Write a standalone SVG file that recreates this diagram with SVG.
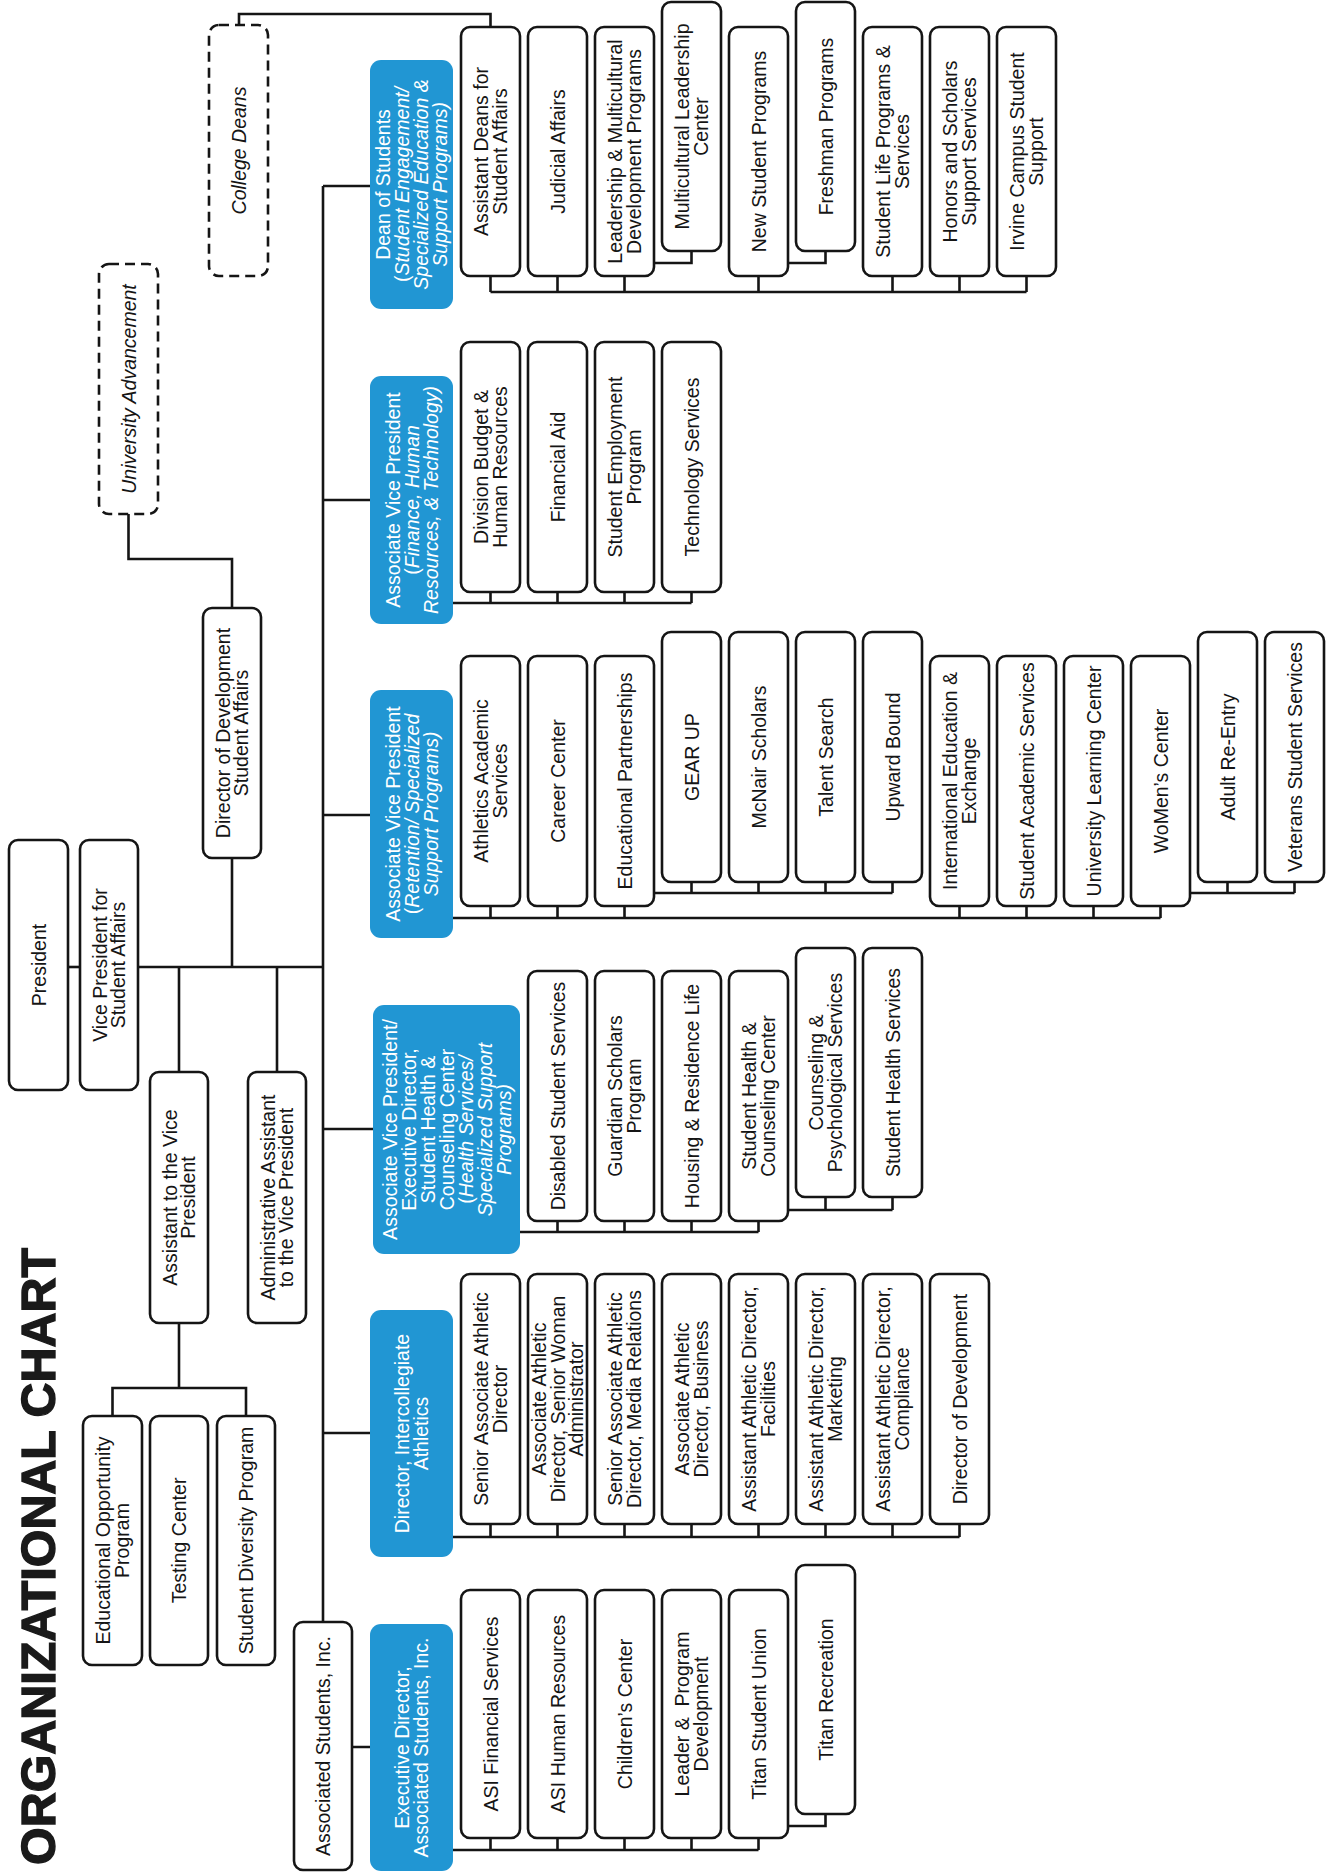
<svg xmlns="http://www.w3.org/2000/svg" width="1331" height="1874" viewBox="0 0 1331 1874">
<style>
.box{fill:#fff;stroke:#151515;stroke-width:2.6}
.dash{fill:#fff;stroke:#151515;stroke-width:2.6;stroke-dasharray:10 6}
.blue{fill:#2196d3}
.ln{fill:none;stroke:#151515;stroke-width:2.6}
.t{font-family:"Liberation Sans",Arial,sans-serif;font-size:19.5px;text-anchor:middle;fill:#151515}
.w{fill:#fff}
.i{font-style:italic}
.n{font-style:normal}
</style>
<rect width="1331" height="1874" fill="#fff"/>
<text transform="translate(55,1556.5) rotate(-90)" font-family="Liberation Sans, Arial, sans-serif" font-weight="bold" font-size="49" text-anchor="middle" textLength="617" lengthAdjust="spacingAndGlyphs" fill="#1a1a1a" stroke="#1a1a1a" stroke-width="1.4">ORGANIZATIONAL CHART</text>

<g id="connectors" class="ln">
<path d="M239,25V14H490.5V27"/>
<path d="M128.5,514V559H232V608"/>
<path d="M68,967H80"/>
<path d="M138,967H323"/>
<path d="M323,186V1622"/>
<path d="M179,967V1072M277,967V1072M232,858V967"/>
<path d="M179,1323V1388M112.5,1416V1388H246V1416"/>
<path d="M323,186H370M323,500H370M323,815H370M323,1129H373M323,1433H370M352,1747H370"/>
<path d="M490.5,292H1026.5M490.5,276V292M557.5,276V292M624.5,276V292M758.5,276V292M892.5,276V292M959.5,276V292M1026.5,276V292M654,263H691.5V251M788,263H825.5V251"/>
<path d="M453,603H691.5M490.5,592V603M557.5,592V603M624.5,592V603M691.5,592V603"/>
<path d="M453,918H1160.5M490.5,906V918M557.5,906V918M624.5,906V918M959.5,906V918M1026.5,906V918M1093.5,906V918M1160.5,906V918M654,893H892.5M691.5,882V893M758.5,882V893M825.5,882V893M892.5,882V893M1190,893H1294.5M1227.5,882V893M1294.5,882V893"/>
<path d="M520,1232H758.5M557.5,1221V1232M624.5,1221V1232M691.5,1221V1232M758.5,1221V1232M788,1210H892.5M825.5,1197V1210M892.5,1197V1210"/>
<path d="M453,1537H959.5M490.5,1524V1537M557.5,1524V1537M624.5,1524V1537M691.5,1524V1537M758.5,1524V1537M825.5,1524V1537M892.5,1524V1537M959.5,1524V1537"/>
<path d="M453,1850H758.5M490.5,1838V1850M557.5,1838V1850M624.5,1838V1850M691.5,1838V1850M758.5,1838V1850M788,1826H825.5V1814"/>
</g>

<g id="president"><rect class="box" x="9" y="840" width="59" height="250" rx="9"/><text class="t" transform="translate(38.5,965) rotate(-90)"><tspan x="0" y="7">President</tspan></text></g>
<g id="vp"><rect class="box" x="80" y="840" width="58" height="250" rx="9"/><text class="t" transform="translate(109,965) rotate(-90)"><tspan x="0" y="-2.25">Vice President for</tspan><tspan x="0" y="16.25">Student Affairs</tspan></text></g>
<g id="dir-dev-sa"><rect class="box" x="203" y="608" width="58" height="250" rx="9"/><text class="t" transform="translate(232,733) rotate(-90)"><tspan x="0" y="-2.25">Director of Development</tspan><tspan x="0" y="16.25">Student Affairs</tspan></text></g>
<g id="asst-vp"><rect class="box" x="150" y="1072" width="58" height="251" rx="9"/><text class="t" transform="translate(179,1197.5) rotate(-90)"><tspan x="0" y="-2.25">Assistant to the Vice</tspan><tspan x="0" y="16.25">President</tspan></text></g>
<g id="admin-asst"><rect class="box" x="248" y="1072" width="58" height="251" rx="9"/><text class="t" transform="translate(277,1197.5) rotate(-90)"><tspan x="0" y="-2.25">Administrative Assistant</tspan><tspan x="0" y="16.25">to the Vice President</tspan></text></g>
<g id="eop"><rect class="box" x="83" y="1416" width="59" height="249" rx="9"/><text class="t" transform="translate(112.5,1540.5) rotate(-90)"><tspan x="0" y="-2.25">Educational Opportunity</tspan><tspan x="0" y="16.25">Program</tspan></text></g>
<g id="testing"><rect class="box" x="150" y="1416" width="58" height="249" rx="9"/><text class="t" transform="translate(179,1540.5) rotate(-90)"><tspan x="0" y="7">Testing Center</tspan></text></g>
<g id="sdp"><rect class="box" x="217" y="1416" width="58" height="249" rx="9"/><text class="t" transform="translate(246,1540.5) rotate(-90)"><tspan x="0" y="7">Student Diversity Program</tspan></text></g>
<g id="asi"><rect class="box" x="294" y="1622" width="58" height="248" rx="9"/><text class="t" transform="translate(323,1746) rotate(-90)"><tspan x="0" y="7">Associated Students, Inc.</tspan></text></g>
<g id="univ-adv"><rect class="dash" x="99" y="264" width="59" height="250" rx="10"/><text class="t i" transform="translate(128.5,389) rotate(-90)"><tspan x="0" y="7">University Advancement</tspan></text></g>
<g id="college-deans"><rect class="dash" x="209" y="25" width="59" height="251" rx="10"/><text class="t i" transform="translate(238.5,150.5) rotate(-90)"><tspan x="0" y="7">College Deans</tspan></text></g>

<g id="dean"><rect class="blue" x="370" y="60" width="83" height="249" rx="11"/><text class="t w" transform="translate(411.5,184.5) rotate(-90)"><tspan x="0" y="-21.5">Dean of Students</tspan><tspan x="0" y="-2.5">(<tspan class="i">Student Engagement/</tspan></tspan><tspan x="0" y="16.5" class="i">Specialized Education &amp;</tspan><tspan x="0" y="35.5" class="i">Support Programs)</tspan></text></g>
<g id="avp-finance"><rect class="blue" x="370" y="376" width="83" height="248" rx="11"/><text class="t w" transform="translate(411.5,500) rotate(-90)"><tspan x="0" y="-12">Associate Vice President</tspan><tspan x="0" y="7">(<tspan class="i">Finance, Human</tspan></tspan><tspan x="0" y="26" class="i">Resources, &amp; Technology)</tspan></text></g>
<g id="avp-retention"><rect class="blue" x="370" y="690" width="83" height="248" rx="11"/><text class="t w" transform="translate(411.5,814) rotate(-90)"><tspan x="0" y="-12">Associate Vice President</tspan><tspan x="0" y="7">(<tspan class="i">Retention/ Specialized</tspan></tspan><tspan x="0" y="26" class="i">Support Programs)</tspan></text></g>
<g id="avp-health"><rect class="blue" x="373" y="1005" width="147" height="249" rx="11"/><text class="t w" transform="translate(446.5,1129.5) rotate(-90)"><tspan x="0" y="-50">Associate Vice President/</tspan><tspan x="0" y="-31">Executive Director,</tspan><tspan x="0" y="-12">Student Health &amp;</tspan><tspan x="0" y="7">Counseling Center</tspan><tspan x="0" y="26">(<tspan class="i">Health Services/</tspan></tspan><tspan x="0" y="45" class="i">Specialized Support</tspan><tspan x="0" y="64" class="i">Programs)</tspan></text></g>
<g id="dir-athletics"><rect class="blue" x="370" y="1310" width="83" height="247" rx="11"/><text class="t w" transform="translate(411.5,1433.5) rotate(-90)"><tspan x="0" y="-2.5">Director, Intercollegiate</tspan><tspan x="0" y="16.5">Athletics</tspan></text></g>
<g id="exec-asi"><rect class="blue" x="370" y="1624" width="83" height="247" rx="11"/><text class="t w" transform="translate(411.5,1747.5) rotate(-90)"><tspan x="0" y="-2.5">Executive Director,</tspan><tspan x="0" y="16.5">Associated Students, Inc.</tspan></text></g>

<g id="asst-deans"><rect class="box" x="461" y="27" width="59" height="249" rx="9"/><text class="t" transform="translate(490.5,151.5) rotate(-90)"><tspan x="0" y="-2.25">Assistant Deans for</tspan><tspan x="0" y="16.25">Student Affairs</tspan></text></g>
<g id="judicial"><rect class="box" x="528" y="27" width="59" height="249" rx="9"/><text class="t" transform="translate(557.5,151.5) rotate(-90)"><tspan x="0" y="7">Judicial Affairs</tspan></text></g>
<g id="leadership"><rect class="box" x="595" y="27" width="59" height="249" rx="9"/><text class="t" transform="translate(624.5,151.5) rotate(-90)"><tspan x="0" y="-2.25">Leadership &amp; Multicultural</tspan><tspan x="0" y="16.25">Development Programs</tspan></text></g>
<g id="mlc"><rect class="box" x="662" y="2" width="59" height="249" rx="9"/><text class="t" transform="translate(691.5,126.5) rotate(-90)"><tspan x="0" y="-2.25">Multicultural Leadership</tspan><tspan x="0" y="16.25">Center</tspan></text></g>
<g id="new-student"><rect class="box" x="729" y="27" width="59" height="249" rx="9"/><text class="t" transform="translate(758.5,151.5) rotate(-90)"><tspan x="0" y="7">New Student Programs</tspan></text></g>
<g id="freshman"><rect class="box" x="796" y="2" width="59" height="249" rx="9"/><text class="t" transform="translate(825.5,126.5) rotate(-90)"><tspan x="0" y="7">Freshman Programs</tspan></text></g>
<g id="student-life"><rect class="box" x="863" y="27" width="59" height="249" rx="9"/><text class="t" transform="translate(892.5,151.5) rotate(-90)"><tspan x="0" y="-2.25">Student Life Programs &amp;</tspan><tspan x="0" y="16.25">Services</tspan></text></g>
<g id="honors"><rect class="box" x="930" y="27" width="59" height="249" rx="9"/><text class="t" transform="translate(959.5,151.5) rotate(-90)"><tspan x="0" y="-2.25">Honors and Scholars</tspan><tspan x="0" y="16.25">Support Services</tspan></text></g>
<g id="irvine"><rect class="box" x="997" y="27" width="59" height="249" rx="9"/><text class="t" transform="translate(1026.5,151.5) rotate(-90)"><tspan x="0" y="-2.25">Irvine Campus Student</tspan><tspan x="0" y="16.25">Support</tspan></text></g>

<g id="budget"><rect class="box" x="461" y="342" width="59" height="250" rx="9"/><text class="t" transform="translate(490.5,467) rotate(-90)"><tspan x="0" y="-2.25">Division Budget &amp;</tspan><tspan x="0" y="16.25">Human Resources</tspan></text></g>
<g id="fin-aid"><rect class="box" x="528" y="342" width="59" height="250" rx="9"/><text class="t" transform="translate(557.5,467) rotate(-90)"><tspan x="0" y="7">Financial Aid</tspan></text></g>
<g id="student-emp"><rect class="box" x="595" y="342" width="59" height="250" rx="9"/><text class="t" transform="translate(624.5,467) rotate(-90)"><tspan x="0" y="-2.25">Student Employment</tspan><tspan x="0" y="16.25">Program</tspan></text></g>
<g id="tech"><rect class="box" x="662" y="342" width="59" height="250" rx="9"/><text class="t" transform="translate(691.5,467) rotate(-90)"><tspan x="0" y="7">Technology Services</tspan></text></g>

<g id="athletics-acad"><rect class="box" x="461" y="656" width="59" height="250" rx="9"/><text class="t" transform="translate(490.5,781) rotate(-90)"><tspan x="0" y="-2.25">Athletics Academic</tspan><tspan x="0" y="16.25">Services</tspan></text></g>
<g id="career"><rect class="box" x="528" y="656" width="59" height="250" rx="9"/><text class="t" transform="translate(557.5,781) rotate(-90)"><tspan x="0" y="7">Career Center</tspan></text></g>
<g id="edu-partner"><rect class="box" x="595" y="656" width="59" height="250" rx="9"/><text class="t" transform="translate(624.5,781) rotate(-90)"><tspan x="0" y="7">Educational Partnerships</tspan></text></g>
<g id="gear-up"><rect class="box" x="662" y="632" width="59" height="250" rx="9"/><text class="t" transform="translate(691.5,757) rotate(-90)"><tspan x="0" y="7">GEAR UP</tspan></text></g>
<g id="mcnair"><rect class="box" x="729" y="632" width="59" height="250" rx="9"/><text class="t" transform="translate(758.5,757) rotate(-90)"><tspan x="0" y="7">McNair Scholars</tspan></text></g>
<g id="talent"><rect class="box" x="796" y="632" width="59" height="250" rx="9"/><text class="t" transform="translate(825.5,757) rotate(-90)"><tspan x="0" y="7">Talent Search</tspan></text></g>
<g id="upward"><rect class="box" x="863" y="632" width="59" height="250" rx="9"/><text class="t" transform="translate(892.5,757) rotate(-90)"><tspan x="0" y="7">Upward Bound</tspan></text></g>
<g id="intl-ed"><rect class="box" x="930" y="656" width="59" height="250" rx="9"/><text class="t" transform="translate(959.5,781) rotate(-90)"><tspan x="0" y="-2.25">International Education &amp;</tspan><tspan x="0" y="16.25">Exchange</tspan></text></g>
<g id="student-acad"><rect class="box" x="997" y="656" width="59" height="250" rx="9"/><text class="t" transform="translate(1026.5,781) rotate(-90)"><tspan x="0" y="7">Student Academic Services</tspan></text></g>
<g id="ulc"><rect class="box" x="1064" y="656" width="59" height="250" rx="9"/><text class="t" transform="translate(1093.5,781) rotate(-90)"><tspan x="0" y="7">University Learning Center</tspan></text></g>
<g id="womens"><rect class="box" x="1131" y="656" width="59" height="250" rx="9"/><text class="t" transform="translate(1160.5,781) rotate(-90)"><tspan x="0" y="7">WoMen’s Center</tspan></text></g>
<g id="adult"><rect class="box" x="1198" y="632" width="59" height="250" rx="9"/><text class="t" transform="translate(1227.5,757) rotate(-90)"><tspan x="0" y="7">Adult Re-Entry</tspan></text></g>
<g id="veterans"><rect class="box" x="1265" y="632" width="59" height="250" rx="9"/><text class="t" transform="translate(1294.5,757) rotate(-90)"><tspan x="0" y="7">Veterans Student Services</tspan></text></g>

<g id="disabled"><rect class="box" x="528" y="971" width="59" height="250" rx="9"/><text class="t" transform="translate(557.5,1096) rotate(-90)"><tspan x="0" y="7">Disabled Student Services</tspan></text></g>
<g id="guardian"><rect class="box" x="595" y="971" width="59" height="250" rx="9"/><text class="t" transform="translate(624.5,1096) rotate(-90)"><tspan x="0" y="-2.25">Guardian Scholars</tspan><tspan x="0" y="16.25">Program</tspan></text></g>
<g id="housing"><rect class="box" x="662" y="971" width="59" height="250" rx="9"/><text class="t" transform="translate(691.5,1096) rotate(-90)"><tspan x="0" y="7">Housing &amp; Residence Life</tspan></text></g>
<g id="shcc"><rect class="box" x="729" y="971" width="59" height="250" rx="9"/><text class="t" transform="translate(758.5,1096) rotate(-90)"><tspan x="0" y="-2.25">Student Health &amp;</tspan><tspan x="0" y="16.25">Counseling Center</tspan></text></g>
<g id="caps"><rect class="box" x="796" y="948" width="59" height="249" rx="9"/><text class="t" transform="translate(825.5,1072.5) rotate(-90)"><tspan x="0" y="-2.25">Counseling &amp;</tspan><tspan x="0" y="16.25">Psychological Services</tspan></text></g>
<g id="shs"><rect class="box" x="863" y="948" width="59" height="249" rx="9"/><text class="t" transform="translate(892.5,1072.5) rotate(-90)"><tspan x="0" y="7">Student Health Services</tspan></text></g>

<g id="sr-assoc-ad"><rect class="box" x="461" y="1274" width="59" height="250" rx="9"/><text class="t" transform="translate(490.5,1399) rotate(-90)"><tspan x="0" y="-2.25">Senior Associate Athletic</tspan><tspan x="0" y="16.25">Director</tspan></text></g>
<g id="assoc-ad-swa"><rect class="box" x="528" y="1274" width="59" height="250" rx="9"/><text class="t" transform="translate(557.5,1399) rotate(-90)"><tspan x="0" y="-11.5">Associate Athletic</tspan><tspan x="0" y="7">Director, Senior Woman</tspan><tspan x="0" y="25.5">Administrator</tspan></text></g>
<g id="sr-assoc-media"><rect class="box" x="595" y="1274" width="59" height="250" rx="9"/><text class="t" transform="translate(624.5,1399) rotate(-90)"><tspan x="0" y="-2.25">Senior Associate Athletic</tspan><tspan x="0" y="16.25">Director, Media Relations</tspan></text></g>
<g id="assoc-ad-business"><rect class="box" x="662" y="1274" width="59" height="250" rx="9"/><text class="t" transform="translate(691.5,1399) rotate(-90)"><tspan x="0" y="-2.25">Associate Athletic</tspan><tspan x="0" y="16.25">Director, Business</tspan></text></g>
<g id="asst-ad-facilities"><rect class="box" x="729" y="1274" width="59" height="250" rx="9"/><text class="t" transform="translate(758.5,1399) rotate(-90)"><tspan x="0" y="-2.25">Assistant Athletic Director,</tspan><tspan x="0" y="16.25">Facilities</tspan></text></g>
<g id="asst-ad-marketing"><rect class="box" x="796" y="1274" width="59" height="250" rx="9"/><text class="t" transform="translate(825.5,1399) rotate(-90)"><tspan x="0" y="-2.25">Assistant Athletic Director,</tspan><tspan x="0" y="16.25">Marketing</tspan></text></g>
<g id="asst-ad-compliance"><rect class="box" x="863" y="1274" width="59" height="250" rx="9"/><text class="t" transform="translate(892.5,1399) rotate(-90)"><tspan x="0" y="-2.25">Assistant Athletic Director,</tspan><tspan x="0" y="16.25">Compliance</tspan></text></g>
<g id="dir-dev-athletics"><rect class="box" x="930" y="1274" width="59" height="250" rx="9"/><text class="t" transform="translate(959.5,1399) rotate(-90)"><tspan x="0" y="7">Director of Development</tspan></text></g>

<g id="asi-fin"><rect class="box" x="461" y="1590" width="59" height="248" rx="9"/><text class="t" transform="translate(490.5,1714) rotate(-90)"><tspan x="0" y="7">ASI Financial Services</tspan></text></g>
<g id="asi-hr"><rect class="box" x="528" y="1590" width="59" height="248" rx="9"/><text class="t" transform="translate(557.5,1714) rotate(-90)"><tspan x="0" y="7">ASI Human Resources</tspan></text></g>
<g id="childrens"><rect class="box" x="595" y="1590" width="59" height="248" rx="9"/><text class="t" transform="translate(624.5,1714) rotate(-90)"><tspan x="0" y="7">Children’s Center</tspan></text></g>
<g id="leader"><rect class="box" x="662" y="1590" width="59" height="248" rx="9"/><text class="t" transform="translate(691.5,1714) rotate(-90)" xml:space="preserve"><tspan x="0" y="-2.25">Leader &amp;  Program</tspan><tspan x="0" y="16.25">Development</tspan></text></g>
<g id="tsu"><rect class="box" x="729" y="1590" width="59" height="248" rx="9"/><text class="t" transform="translate(758.5,1714) rotate(-90)"><tspan x="0" y="7">Titan Student Union</tspan></text></g>
<g id="titan-rec"><rect class="box" x="796" y="1565" width="59" height="249" rx="9"/><text class="t" transform="translate(825.5,1689.5) rotate(-90)"><tspan x="0" y="7">Titan Recreation</tspan></text></g>
</svg>
